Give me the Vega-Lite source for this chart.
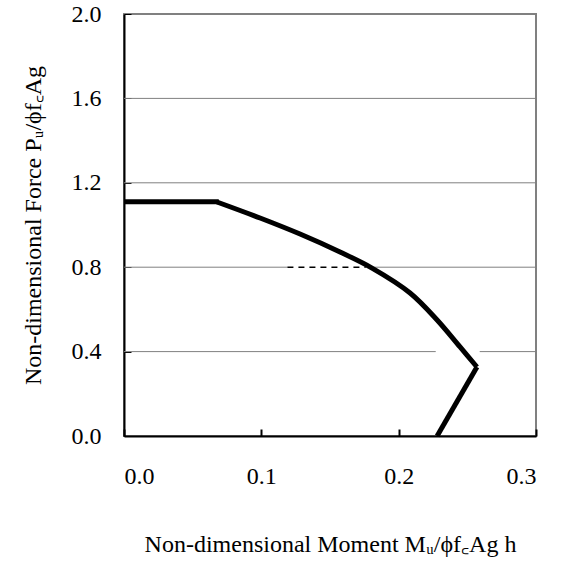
{
  "$schema": "https://vega.github.io/schema/vega-lite/v6.json",
  "width": 412,
  "height": 422,
  "autosize": "none",
  "padding": {"left": 124, "top": 14, "right": 33, "bottom": 128},
  "background": "white",
  "config": {
    "view": {"stroke": "#808080", "strokeWidth": 2},
    "font": "Liberation Serif"
  },
  "datasets": {
    "straight": [
      {"seg": "a", "i": 0, "m": 0.0, "p": 1.11},
      {"seg": "a", "i": 1, "m": 0.069, "p": 1.11},
      {"seg": "c", "i": 0, "m": 0.257, "p": 0.327},
      {"seg": "c", "i": 1, "m": 0.228, "p": 0.0}
    ],
    "curve": [
      {"i": 0, "m": 0.0677, "p": 1.109},
      {"i": 1, "m": 0.0991, "p": 1.033},
      {"i": 2, "m": 0.1282, "p": 0.957},
      {"i": 3, "m": 0.1573, "p": 0.872},
      {"i": 4, "m": 0.1806, "p": 0.796},
      {"i": 5, "m": 0.2083, "p": 0.678},
      {"i": 6, "m": 0.228, "p": 0.55},
      {"i": 7, "m": 0.2447, "p": 0.422},
      {"i": 8, "m": 0.257, "p": 0.327}
    ],
    "grid": [
      {"y": 0.4, "x1": 0.0, "x2": 0.227},
      {"y": 0.4, "x1": 0.259, "x2": 0.3},
      {"y": 0.8, "x1": 0.0, "x2": 0.119},
      {"y": 0.8, "x1": 0.182, "x2": 0.3},
      {"y": 1.2, "x1": 0.0, "x2": 0.3},
      {"y": 1.6, "x1": 0.0, "x2": 0.3}
    ],
    "dash": [
      {"y": 0.8, "x1": 0.119, "x2": 0.176}
    ]
  },
  "layer": [
    {
      "data": {"name": "grid"},
      "mark": {"type": "rule", "color": "#808080", "strokeWidth": 1},
      "encoding": {
        "x": {"field": "x1", "type": "quantitative", "scale": {"domain": [0, 0.3], "nice": false}},
        "x2": {"field": "x2"},
        "y": {"field": "y", "type": "quantitative", "scale": {"domain": [0, 2], "nice": false}}
      }
    },
    {
      "data": {"name": "dash"},
      "mark": {"type": "rule", "color": "black", "strokeWidth": 1.5, "strokeDash": [6, 5]},
      "encoding": {
        "x": {"field": "x1", "type": "quantitative"},
        "x2": {"field": "x2"},
        "y": {"field": "y", "type": "quantitative"}
      }
    },
    {
      "data": {"name": "curve"},
      "mark": {"type": "line", "color": "black", "strokeWidth": 5, "interpolate": "catmull-rom"},
      "encoding": {
        "x": {"field": "m", "type": "quantitative"},
        "y": {"field": "p", "type": "quantitative"},
        "order": {"field": "i", "type": "quantitative"}
      }
    },
    {
      "data": {"name": "straight"},
      "mark": {"type": "line", "color": "black", "strokeWidth": 5, "strokeJoin": "miter"},
      "encoding": {
        "x": {
          "field": "m", "type": "quantitative",
          "scale": {"domain": [0, 0.3], "nice": false},
          "axis": {
            "title": "Non-dimensional Moment Mᵤ/ϕf꜀Ag h",
            "values": [0, 0.1, 0.2, 0.3],
            "format": ".1f",
            "grid": false,
            "domainColor": "black",
            "domainWidth": 2,
            "tickColor": "black",
            "tickWidth": 2,
            "tickSize": -7,
            "labelPadding": 35,
            "labelFontSize": 24,
            "labelColor": "black",
            "labelFont": "Liberation Serif",
            "titleFont": "Liberation Serif",
            "titleFontSize": 24,
            "titleFontWeight": "normal",
            "titleColor": "black",
            "titlePadding": 44
          }
        },
        "y": {
          "field": "p", "type": "quantitative",
          "scale": {"domain": [0, 2], "nice": false},
          "axis": {
            "title": "Non-dimensional Force Pᵤ/ϕf꜀Ag",
            "values": [0, 0.4, 0.8, 1.2, 1.6, 2.0],
            "format": ".1f",
            "grid": false,
            "domainColor": "black",
            "domainWidth": 2,
            "tickColor": "black",
            "tickWidth": 1,
            "tickSize": -7,
            "labelPadding": 30,
            "labelFontSize": 24,
            "labelColor": "black",
            "labelFont": "Liberation Serif",
            "titleFont": "Liberation Serif",
            "titleFontSize": 24,
            "titleFontWeight": "normal",
            "titleColor": "black",
            "titlePadding": 26
          }
        },
        "detail": {"field": "seg", "type": "nominal"},
        "order": {"field": "i", "type": "quantitative"}
      }
    }
  ]
}
